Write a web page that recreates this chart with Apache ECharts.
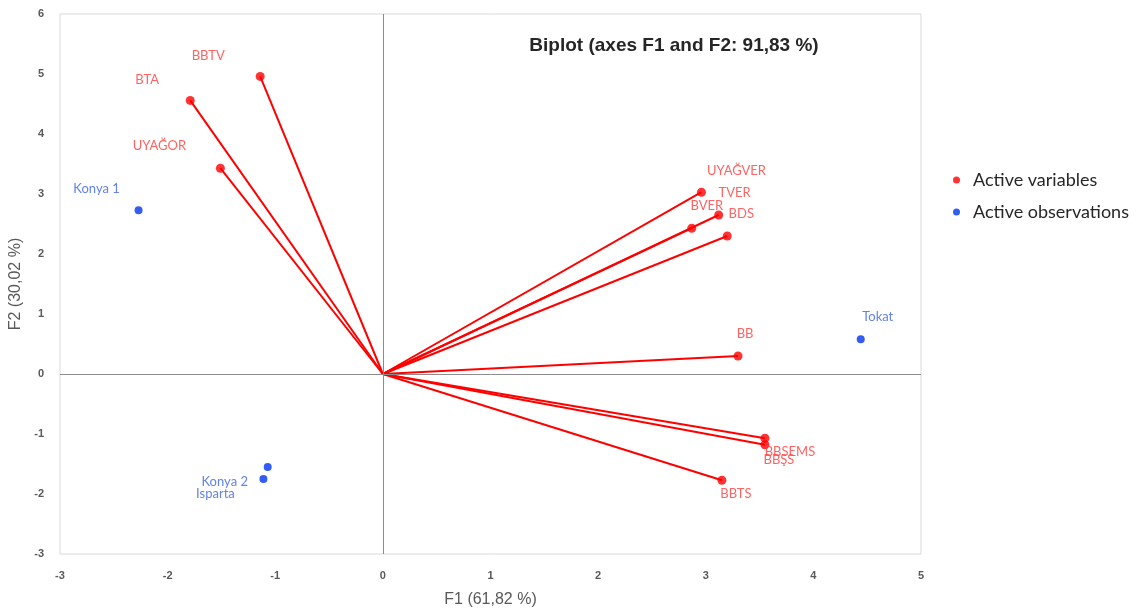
<!DOCTYPE html>
<html>
<head>
<meta charset="utf-8">
<script src="https://cdn.jsdelivr.net/npm/echarts@6/dist/echarts.min.js"></script>
<style>html,body{margin:0;padding:0;background:#fff;}#c{width:1147px;height:610px;}</style>
</head>
<body>
<div id="c"></div>
<script>
// Active variables
var varNames = ['BBTV','BTA','UYAĞOR','UYAĞVER','TVER','BVER','BDS','BB','BBSEMS','BBŞS','BBTS'];
var varF1 = [-1.14, -1.79, -1.51, 2.96, 3.12, 2.87, 3.20, 3.30, 3.55, 3.55, 3.15];
var varF2 = [4.96, 4.56, 3.43, 3.03, 2.65, 2.43, 2.30, 0.30, -1.07, -1.18, -1.77];
// Active observations
var obsNames = ['Konya 1','Konya 2','Isparta','Tokat'];
var obsF1 = [-2.27, -1.07, -1.11, 4.44];
var obsF2 = [2.73, -1.55, -1.75, 0.58];
// Axis ticks
var xTicks = [-3,-2,-1,0,1,2,3,4,5];
var yTicks = [-3,-2,-1,0,1,2,3,4,5,6];

// label offsets (style only)
var varLabelOffsets = [[-52,-21],[-43,-21],[-61,-22],[35,-21],[16,-22],[15,-22],[14,-22],[7,-22],[25,14],[14,15],[14,14]];
var obsLabelOffsets = [[-42,-21],[-43,15],[-48,15],[17,-22]];

var red = '#ff0000';
var blue = '#0033ee';

var varData = varNames.map(function(n,i){
  return {name:n, value:[varF1[i], varF2[i]], label:{offset:varLabelOffsets[i]}};
});
var obsData = obsNames.map(function(n,i){
  return {name:n, value:[obsF1[i], obsF2[i]], label:{offset:obsLabelOffsets[i]}};
});
var vecData = varNames.map(function(n,i){
  return {coords:[[0,0],[varF1[i], varF2[i]]]};
});

var chart = echarts.init(document.getElementById('c'));
chart.setOption({
  animation:false,
  backgroundColor:'#fff',
  title:{
    text:'Biplot (axes F1 and F2: 91,83 %)',
    left:669, top:31, textAlign:'center',
    textStyle:{fontFamily:'Liberation Sans, Arial', fontWeight:'bold', fontSize:19, color:'#262626'}
  },
  legend:{
    orient:'vertical', left:948, top:166, itemGap:14,
    icon:'circle', itemWidth:7, itemHeight:7,
    textStyle:{fontFamily:'Lato', fontSize:18, color:'#262626', padding:[0,0,0,8]},
    data:['Active variables','Active observations']
  },
  grid:{left:60, right:226, top:14, bottom:56, show:true, borderColor:'#d9d9d9', borderWidth:1, outerBoundsMode:'none', containLabel:false},
  xAxis:{
    type:'value', min:xTicks[0], max:xTicks[xTicks.length-1], interval:1,
    name:'F1 (61,82 %)', nameLocation:'middle', nameGap:38,
    nameTextStyle:{fontFamily:'Liberation Sans', fontSize:16, color:'#595959'},
    axisLine:{show:false, onZero:false}, axisTick:{show:false}, splitLine:{show:false},
    axisLabel:{margin:16, fontFamily:'Liberation Sans', fontSize:11, fontWeight:'bold', color:'#595959'}
  },
  yAxis:{
    type:'value', min:yTicks[0], max:yTicks[yTicks.length-1], interval:1,
    name:'F2 (30,02 %)', nameLocation:'middle', nameGap:33, nameRotate:90,
    nameTextStyle:{fontFamily:'Liberation Sans', fontSize:16, color:'#595959'},
    axisLine:{show:false, onZero:false}, axisTick:{show:false}, splitLine:{show:false},
    axisLabel:{margin:16, fontFamily:'Liberation Sans', fontSize:11, fontWeight:'bold', color:'#595959'}
  },
  series:[
    {
      type:'lines', coordinateSystem:'cartesian2d', silent:true, z:2,
      lineStyle:{color:red, width:2, opacity:1},
      data:vecData,
      markLine:{
        silent:true, symbol:'none', label:{show:false},
        lineStyle:{color:'#8c8c8c', width:1, type:'solid'},
        data:[{xAxis:0},{yAxis:0}]
      }
    },
    {
      name:'Active variables', type:'scatter', symbolSize:9, z:3,
      itemStyle:{color:red},
      label:{show:true, position:'inside', formatter:'{b}', fontFamily:'Lato', fontSize:13, color:'#ff3b3b'},
      data:varData
    },
    {
      name:'Active observations', type:'scatter', symbolSize:8, z:3,
      itemStyle:{color:blue},
      label:{show:true, position:'inside', formatter:'{b}', fontFamily:'Lato', fontSize:13, color:'#3a62e8'},
      data:obsData
    }
  ]
});
</script>
</body>
</html>
